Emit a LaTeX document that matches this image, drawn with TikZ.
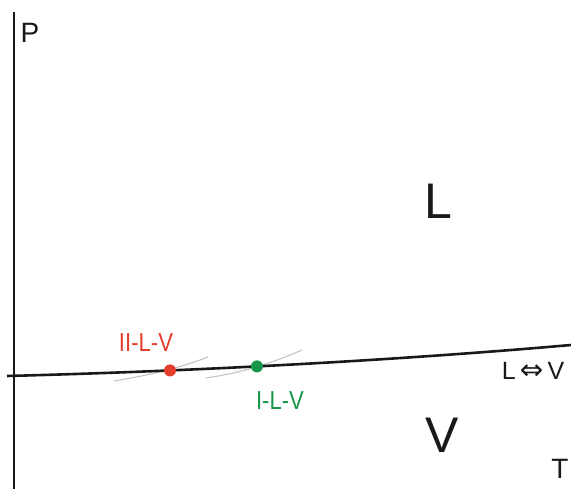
\documentclass[tikz,border=0pt]{standalone}
\usepackage{fontspec}
\setmainfont{Liberation Sans}
\newfontfamily\labfont[FakeStretch=0.85]{Liberation Sans}
\newfontfamily\arrfont{DejaVu Sans}
\definecolor{ptred}{RGB}{230,62,45}
\definecolor{ptgreen}{RGB}{22,150,72}
\definecolor{ptgray}{RGB}{195,195,195}
\tikzset{
  axisline/.style={line width=2.4pt, black!90},
  phaseline/.style={line width=2.6pt, black!90},
  guideline/.style={line width=1.1pt, ptgray},
  ptdot/.style={circle, inner sep=0pt, minimum size=12pt},
  biglab/.style={font=\fontsize{50}{50}\selectfont, text=black!90, inner sep=0pt},
  axlab/.style={font=\fontsize{28}{28}\selectfont, text=black!90, inner sep=0pt},
  ptlab/.style={font=\labfont\fontsize{26}{26}\selectfont, inner sep=0pt},
}
\begin{document}
\begin{tikzpicture}[x=1pt,y=-1pt]
\useasboundingbox (0,0) rectangle (571,489);
% axis
\coordinate (ytop) at (14,12);
\coordinate (ybot) at (14,489);
\draw[axisline] (ytop) -- (ybot);
% guide curves
\coordinate (g1a) at (114,381);
\coordinate (g1b) at (208,357);
\coordinate (g2a) at (206,378);
\coordinate (g2b) at (302,350);
\draw[guideline] (g1a) .. controls (150,375) and (180,368) .. (g1b);
\draw[guideline] (g2a) .. controls (240,373) and (270,364) .. (g2b);
% L-V line
\coordinate (lvstart) at (7,376);
\coordinate (lvend) at (571,345);
\draw[phaseline] (lvstart) .. controls (200,371) and (400,360) .. (lvend)
  node[ptdot, fill=ptred, pos=0.28] (d2) {}
  node[ptdot, fill=ptgreen, pos=0.43] (d1) {};
% labels
\node[axlab, anchor=center] (P) at (30,33) {P};
\node[axlab, anchor=center] (T) at (560,469) {T};
\node[biglab] (L) at (438,201) {L};
\node[biglab] (V) at (442,435) {V};
\node[ptlab, text=ptred] (l2) at (146,343) {II-L-V};
\node[ptlab, text=ptgreen] (l1) at (280,401) {I-L-V};
\node[inner sep=0pt, text=black!90, font=\fontsize{25}{25}\selectfont] (lv) at (533,371) {L\,{\arrfont\fontsize{28}{28}\selectfont ⇔}\,V};
\end{tikzpicture}
\end{document}
